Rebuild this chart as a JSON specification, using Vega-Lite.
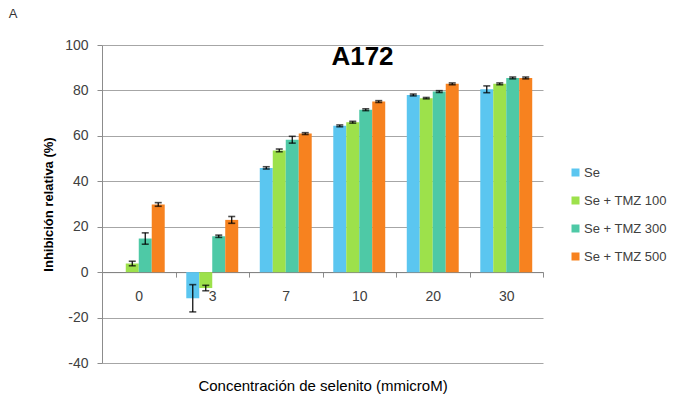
{
  "$schema": "https://vega.github.io/schema/vega-lite/v6.json",
  "padding": {"left": 8, "top": 8, "right": 10, "bottom": 8},
  "background": "white",
  "title": {
    "text": "A",
    "anchor": "start",
    "frame": "bounds",
    "font": "Liberation Sans",
    "fontSize": 13,
    "fontWeight": "normal",
    "color": "#333333",
    "dx": -34,
    "offset": 17
  },
  "config": {
    "view": {"stroke": null},
    "font": "Liberation Sans",
    "axis": {
      "labelFont": "Liberation Sans",
      "titleFont": "Liberation Sans",
      "labelColor": "#404040",
      "domainColor": "#8c8c8c",
      "tickColor": "#8c8c8c",
      "gridColor": "#a6a6a6"
    }
  },
  "vconcat": [
    {
      "width": 441,
      "height": 318,
      "title": {
        "text": "A172",
        "anchor": "middle",
        "frame": "group",
        "font": "Liberation Sans",
        "fontSize": 26,
        "fontWeight": "bold",
        "color": "#000000",
        "dx": 40,
        "dy": 36
      },
      "data": {
        "values": [
          {"conc": "0", "series": "Se", "value": 0},
          {"conc": "0", "series": "Se + TMZ 100", "value": 3.8, "lo": 2.8, "hi": 4.8},
          {"conc": "0", "series": "Se + TMZ 300", "value": 14.8, "lo": 12.3, "hi": 17.3},
          {"conc": "0", "series": "Se + TMZ 500", "value": 29.8, "lo": 29.0, "hi": 30.6},
          {"conc": "3", "series": "Se", "value": -11.5, "lo": -17.5, "hi": -5.5},
          {"conc": "3", "series": "Se + TMZ 100", "value": -7, "lo": -8.2, "hi": -5.8},
          {"conc": "3", "series": "Se + TMZ 300", "value": 15.8, "lo": 15.3, "hi": 16.3},
          {"conc": "3", "series": "Se + TMZ 500", "value": 23, "lo": 21.5, "hi": 24.5},
          {"conc": "7", "series": "Se", "value": 45.9, "lo": 45.4, "hi": 46.4},
          {"conc": "7", "series": "Se + TMZ 100", "value": 53.6, "lo": 53.0, "hi": 54.2},
          {"conc": "7", "series": "Se + TMZ 300", "value": 58.3, "lo": 56.8, "hi": 59.8},
          {"conc": "7", "series": "Se + TMZ 500", "value": 61, "lo": 60.6, "hi": 61.4},
          {"conc": "10", "series": "Se", "value": 64.4, "lo": 64.0, "hi": 64.8},
          {"conc": "10", "series": "Se + TMZ 100", "value": 66, "lo": 65.6, "hi": 66.4},
          {"conc": "10", "series": "Se + TMZ 300", "value": 71.5, "lo": 71.1, "hi": 71.9},
          {"conc": "10", "series": "Se + TMZ 500", "value": 75.1, "lo": 74.7, "hi": 75.5},
          {"conc": "20", "series": "Se", "value": 78, "lo": 77.6, "hi": 78.4},
          {"conc": "20", "series": "Se + TMZ 100", "value": 76.6, "lo": 76.3, "hi": 76.9},
          {"conc": "20", "series": "Se + TMZ 300", "value": 79.5, "lo": 79.1, "hi": 79.9},
          {"conc": "20", "series": "Se + TMZ 500", "value": 82.9, "lo": 82.5, "hi": 83.3},
          {"conc": "30", "series": "Se", "value": 80.5, "lo": 79.0, "hi": 82.0},
          {"conc": "30", "series": "Se + TMZ 100", "value": 82.9, "lo": 82.5, "hi": 83.3},
          {"conc": "30", "series": "Se + TMZ 300", "value": 85.5, "lo": 85.1, "hi": 85.9},
          {"conc": "30", "series": "Se + TMZ 500", "value": 85.5, "lo": 85.1, "hi": 85.9}
        ]
      },
      "encoding": {
        "x": {
          "field": "conc",
          "type": "nominal",
          "sort": ["0", "3", "7", "10", "20", "30"],
          "scale": {"paddingInner": 0, "paddingOuter": 0},
          "axis": {
            "title": "Concentración de selenito (mmicroM)",
            "titleFontSize": 15,
            "titleFontWeight": "normal",
            "titleColor": "#000000",
            "titleY": 118,
            "titleBaseline": "alphabetic",
            "labelAngle": 0,
            "labelFontSize": 14,
            "labelPadding": 12,
            "tickBand": "extent",
            "tickSize": 5,
            "offset": -90.9,
            "grid": false,
            "domainColor": "#808080"
          }
        },
        "xOffset": {
          "field": "series",
          "type": "nominal",
          "sort": ["Se", "Se + TMZ 100", "Se + TMZ 300", "Se + TMZ 500"],
          "scale": {"paddingInner": 0, "paddingOuter": 0.83}
        }
      },
      "layer": [
        {
          "mark": {"type": "bar"},
          "encoding": {
            "y": {
              "field": "value",
              "type": "quantitative",
              "scale": {"domain": [-40, 100], "nice": false},
              "axis": {
                "title": "Inhibición relativa (%)",
                "titleFontSize": 13,
                "titleFontWeight": "bold",
                "titleColor": "#000000",
                "titlePadding": 9,
                "values": [-40, -20, 0, 20, 40, 60, 80, 100],
                "labelExpr": "'' + datum.value",
                "labelFontSize": 14,
                "labelPadding": 9,
                "tickSize": 5,
                "grid": true
              }
            },
            "color": {
              "field": "series",
              "type": "nominal",
              "sort": ["Se", "Se + TMZ 100", "Se + TMZ 300", "Se + TMZ 500"],
              "scale": {
                "domain": ["Se", "Se + TMZ 100", "Se + TMZ 300", "Se + TMZ 500"],
                "range": ["#5bc6f0", "#9de14b", "#4ec9a6", "#f7821f"]
              },
              "legend": {
                "title": null,
                "orient": "none",
                "legendX": 467,
                "legendY": 121,
                "symbolType": "square",
                "symbolSize": 64,
                "symbolStrokeWidth": 0,
                "labelFont": "Liberation Sans",
                "labelFontSize": 13,
                "labelColor": "#404040",
                "labelOffset": 2,
                "rowPadding": 14
              }
            }
          }
        },
        {
          "mark": {"type": "rule", "color": "#000000", "strokeWidth": 1.2},
          "encoding": {
            "y": {"field": "lo", "type": "quantitative"},
            "y2": {"field": "hi"}
          }
        },
        {
          "mark": {"type": "tick", "color": "#000000", "size": 7, "thickness": 1.6},
          "encoding": {"y": {"field": "lo", "type": "quantitative"}}
        },
        {
          "mark": {"type": "tick", "color": "#000000", "size": 7, "thickness": 1.6},
          "encoding": {"y": {"field": "hi", "type": "quantitative"}}
        }
      ]
    }
  ]
}
